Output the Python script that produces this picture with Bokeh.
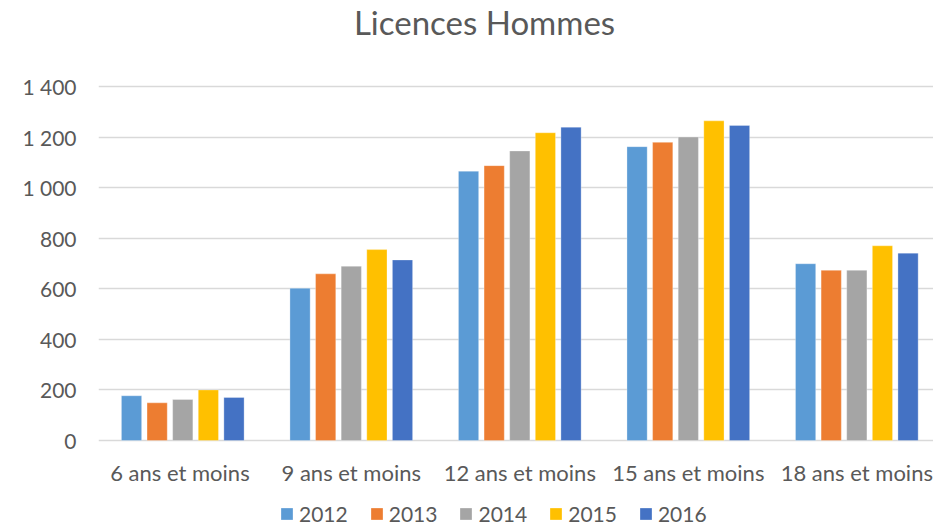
from bokeh.plotting import figure
from bokeh.models import (ColumnDataSource, Range1d, FixedTicker, Legend, LegendItem, Label)
from bokeh.transform import dodge
from bokeh.core.properties import value
from bokeh.embed import file_html
from bokeh.resources import INLINE

categories = ["6 ans  et moins", "9 ans et moins", "12 ans et moins", "15 ans et moins", "18 ans et moins"]
years = ["2012", "2013", "2014", "2015", "2016"]
v2012 = [177, 602, 1065, 1162, 699]
v2013 = [149, 659, 1087, 1179, 673]
v2014 = [162, 689, 1145, 1200, 673]
v2015 = [200, 755, 1217, 1264, 770]
v2016 = [170, 714, 1239, 1246, 741]
colors = ["#5B9BD5", "#ED7D31", "#A5A5A5", "#FFC000", "#4472C4"]
y_ticks = [0, 200, 400, 600, 800, 1000, 1200, 1400]
y_tick_labels = ["0", "200", "400", "600", "800", "1 000", "1 200", "1 400"]
title_text = "Licences Hommes"

FONT = "Lato"
GREY = "#595959"

xs = [i + 0.5 for i in range(len(categories))]
source = ColumnDataSource(dict(x=xs, base=[0] * len(xs), cat=categories,
                               v2012=v2012, v2013=v2013, v2014=v2014, v2015=v2015, v2016=v2016))

# frame spans whole height; value axis 0..1400 occupies rows 86..440 px
p = figure(width=933, height=527, output_backend="svg", toolbar_location=None,
           x_range=Range1d(0, 4.955), y_range=Range1d(-344, 1740),
           min_border_left=98, min_border_right=0, min_border_top=0, min_border_bottom=0,
           outline_line_color=None)

pitch = 0.152
width = 0.12
renderers = []
for k, (yr, col) in enumerate(zip(years, colors)):
    off = (k - 2) * pitch
    r = p.vbar(x=dodge("x", off, range=p.x_range), top="v" + yr, width=width, source=source,
               fill_color=col, line_color="white", line_width=0.5, line_alpha=0.6)
    renderers.append(r)

# category labels under the baseline
p.text(x="x", y="base", text="cat", source=source, y_offset=32,
       text_align="center", text_baseline="middle",
       text_font=value(FONT), text_font_size="22px", text_color=GREY)

p.xgrid.grid_line_color = None
p.ygrid.grid_line_color = "#D9D9D9"
p.ygrid.grid_line_width = 1.3
p.ygrid.ticker = FixedTicker(ticks=y_ticks)

p.xaxis.visible = False

p.yaxis.ticker = FixedTicker(ticks=y_ticks)
p.yaxis.major_label_overrides = {t: l for t, l in zip(y_ticks, y_tick_labels)}
p.yaxis.axis_line_color = None
p.yaxis.major_tick_line_color = None
p.yaxis.minor_tick_line_color = None
p.yaxis.major_label_standoff = 16
p.yaxis.major_label_text_font = FONT
p.yaxis.major_label_text_font_size = "21px"
p.yaxis.major_label_text_color = GREY

p.add_layout(Label(x=386, y=506, x_units="screen", y_units="screen", text=title_text,
                   text_align="center", text_baseline="middle",
                   text_font=FONT, text_font_size="33px", text_color=GREY))

legend = Legend(items=[LegendItem(label=yr, renderers=[r]) for yr, r in zip(years, renderers)],
                orientation="horizontal", location=(181, 1),
                glyph_width=15, glyph_height=15, label_standoff=5, spacing=21,
                label_text_font=FONT, label_text_font_size="21px", label_text_color=GREY,
                border_line_color=None, background_fill_alpha=0, padding=0, margin=0)
p.add_layout(legend, "center")

open("out.html", "w").write(file_html(p, INLINE))
